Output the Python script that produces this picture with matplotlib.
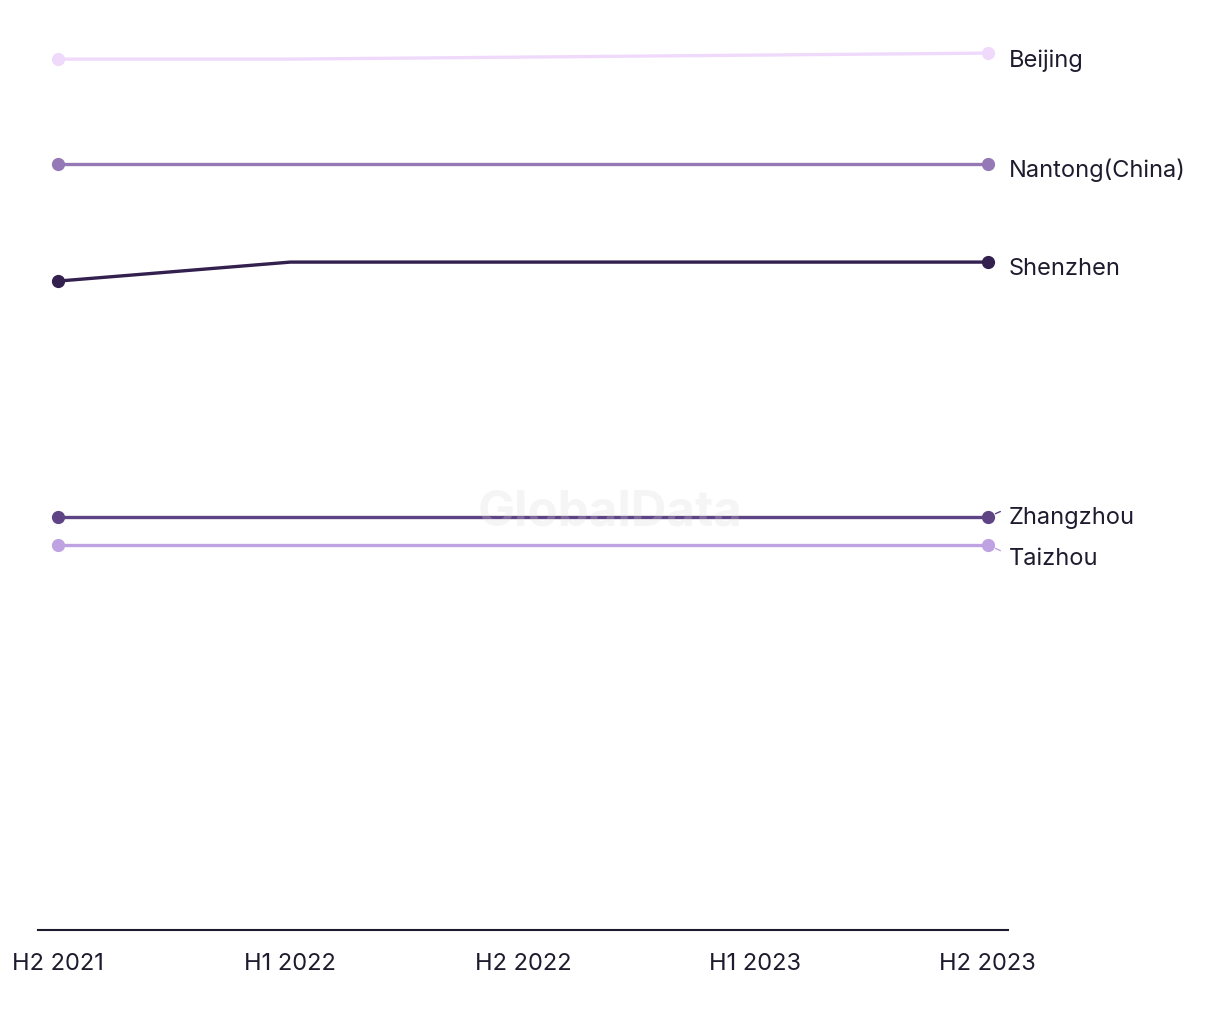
import numpy as np
import matplotlib.pyplot as plt

periods = ["H2 2021", "H1 2022", "H2 2022", "H1 2023", "H2 2023"]
cities = ["Beijing", "Nantong(China)", "Shenzhen", "Zhangzhou", "Taizhou"]

beijing = [87.1, 87.1, 87.3, 87.5, 87.7]
nantong = [76.6, 76.6, 76.6, 76.6, 76.6]
shenzhen = [64.9, 66.8, 66.8, 66.8, 66.8]
zhangzhou = [41.3, 41.3, 41.3, 41.3, 41.3]
taizhou = [38.5, 38.5, 38.5, 38.5, 38.5]

colors = ["#F0DAFB", "#9579B6", "#33204F", "#5E4485", "#BEA2E2"]
text_color = "#1E1B2E"

plt.rcParams['font.family'] = ['Inter', 'DejaVu Sans']

fig = plt.figure(figsize=(12.2, 10.2), dpi=100)
ax = fig.add_axes([0.0311, 0.0872, 0.795, 0.8725])

x = np.arange(len(periods))
series = [beijing, nantong, shenzhen, zhangzhou, taizhou]
# label offsets in points (to keep close labels apart)
label_dy = [-4.5, -4, -4, 0, -9]

for name, vals, col, dy in zip(cities, series, colors, label_dy):
    ax.plot(x, vals, color=col, lw=2.4, marker="o", markersize=8.5,
            markevery=[0, len(vals) - 1], solid_capstyle="round", zorder=3)
    ax.annotate(name, xy=(x[-1], vals[-1]), xytext=(15, dy),
                textcoords="offset points", va="center", ha="left",
                fontsize=17, color=text_color)

# small connectors for the pushed labels
ax.annotate("", xy=(x[-1], zhangzhou[-1]), xytext=(9, 4), textcoords="offset points",
            arrowprops=dict(arrowstyle="-", color=colors[3], lw=1, shrinkA=0, shrinkB=6))
ax.annotate("", xy=(x[-1], taizhou[-1]), xytext=(9, -4), textcoords="offset points",
            arrowprops=dict(arrowstyle="-", color=colors[4], lw=1, shrinkA=0, shrinkB=6))

ax.text(2.374, 41.9, "GlobalData", ha="center", va="center", fontsize=35.5,
        fontweight="bold", color="#D8D8D8", alpha=0.25, zorder=5)

ax.set_xlim(-0.086, 4.086)
ax.set_ylim(0, 89)
ax.set_xticks(x)
ax.set_xticklabels(periods, fontsize=17, color=text_color)
ax.tick_params(axis="x", length=0, pad=16)
ax.set_yticks([])
for s in ["top", "right", "left"]:
    ax.spines[s].set_visible(False)
ax.spines["bottom"].set_color(text_color)
ax.spines["bottom"].set_linewidth(1.5)

fig.savefig("out.png", dpi=100)
